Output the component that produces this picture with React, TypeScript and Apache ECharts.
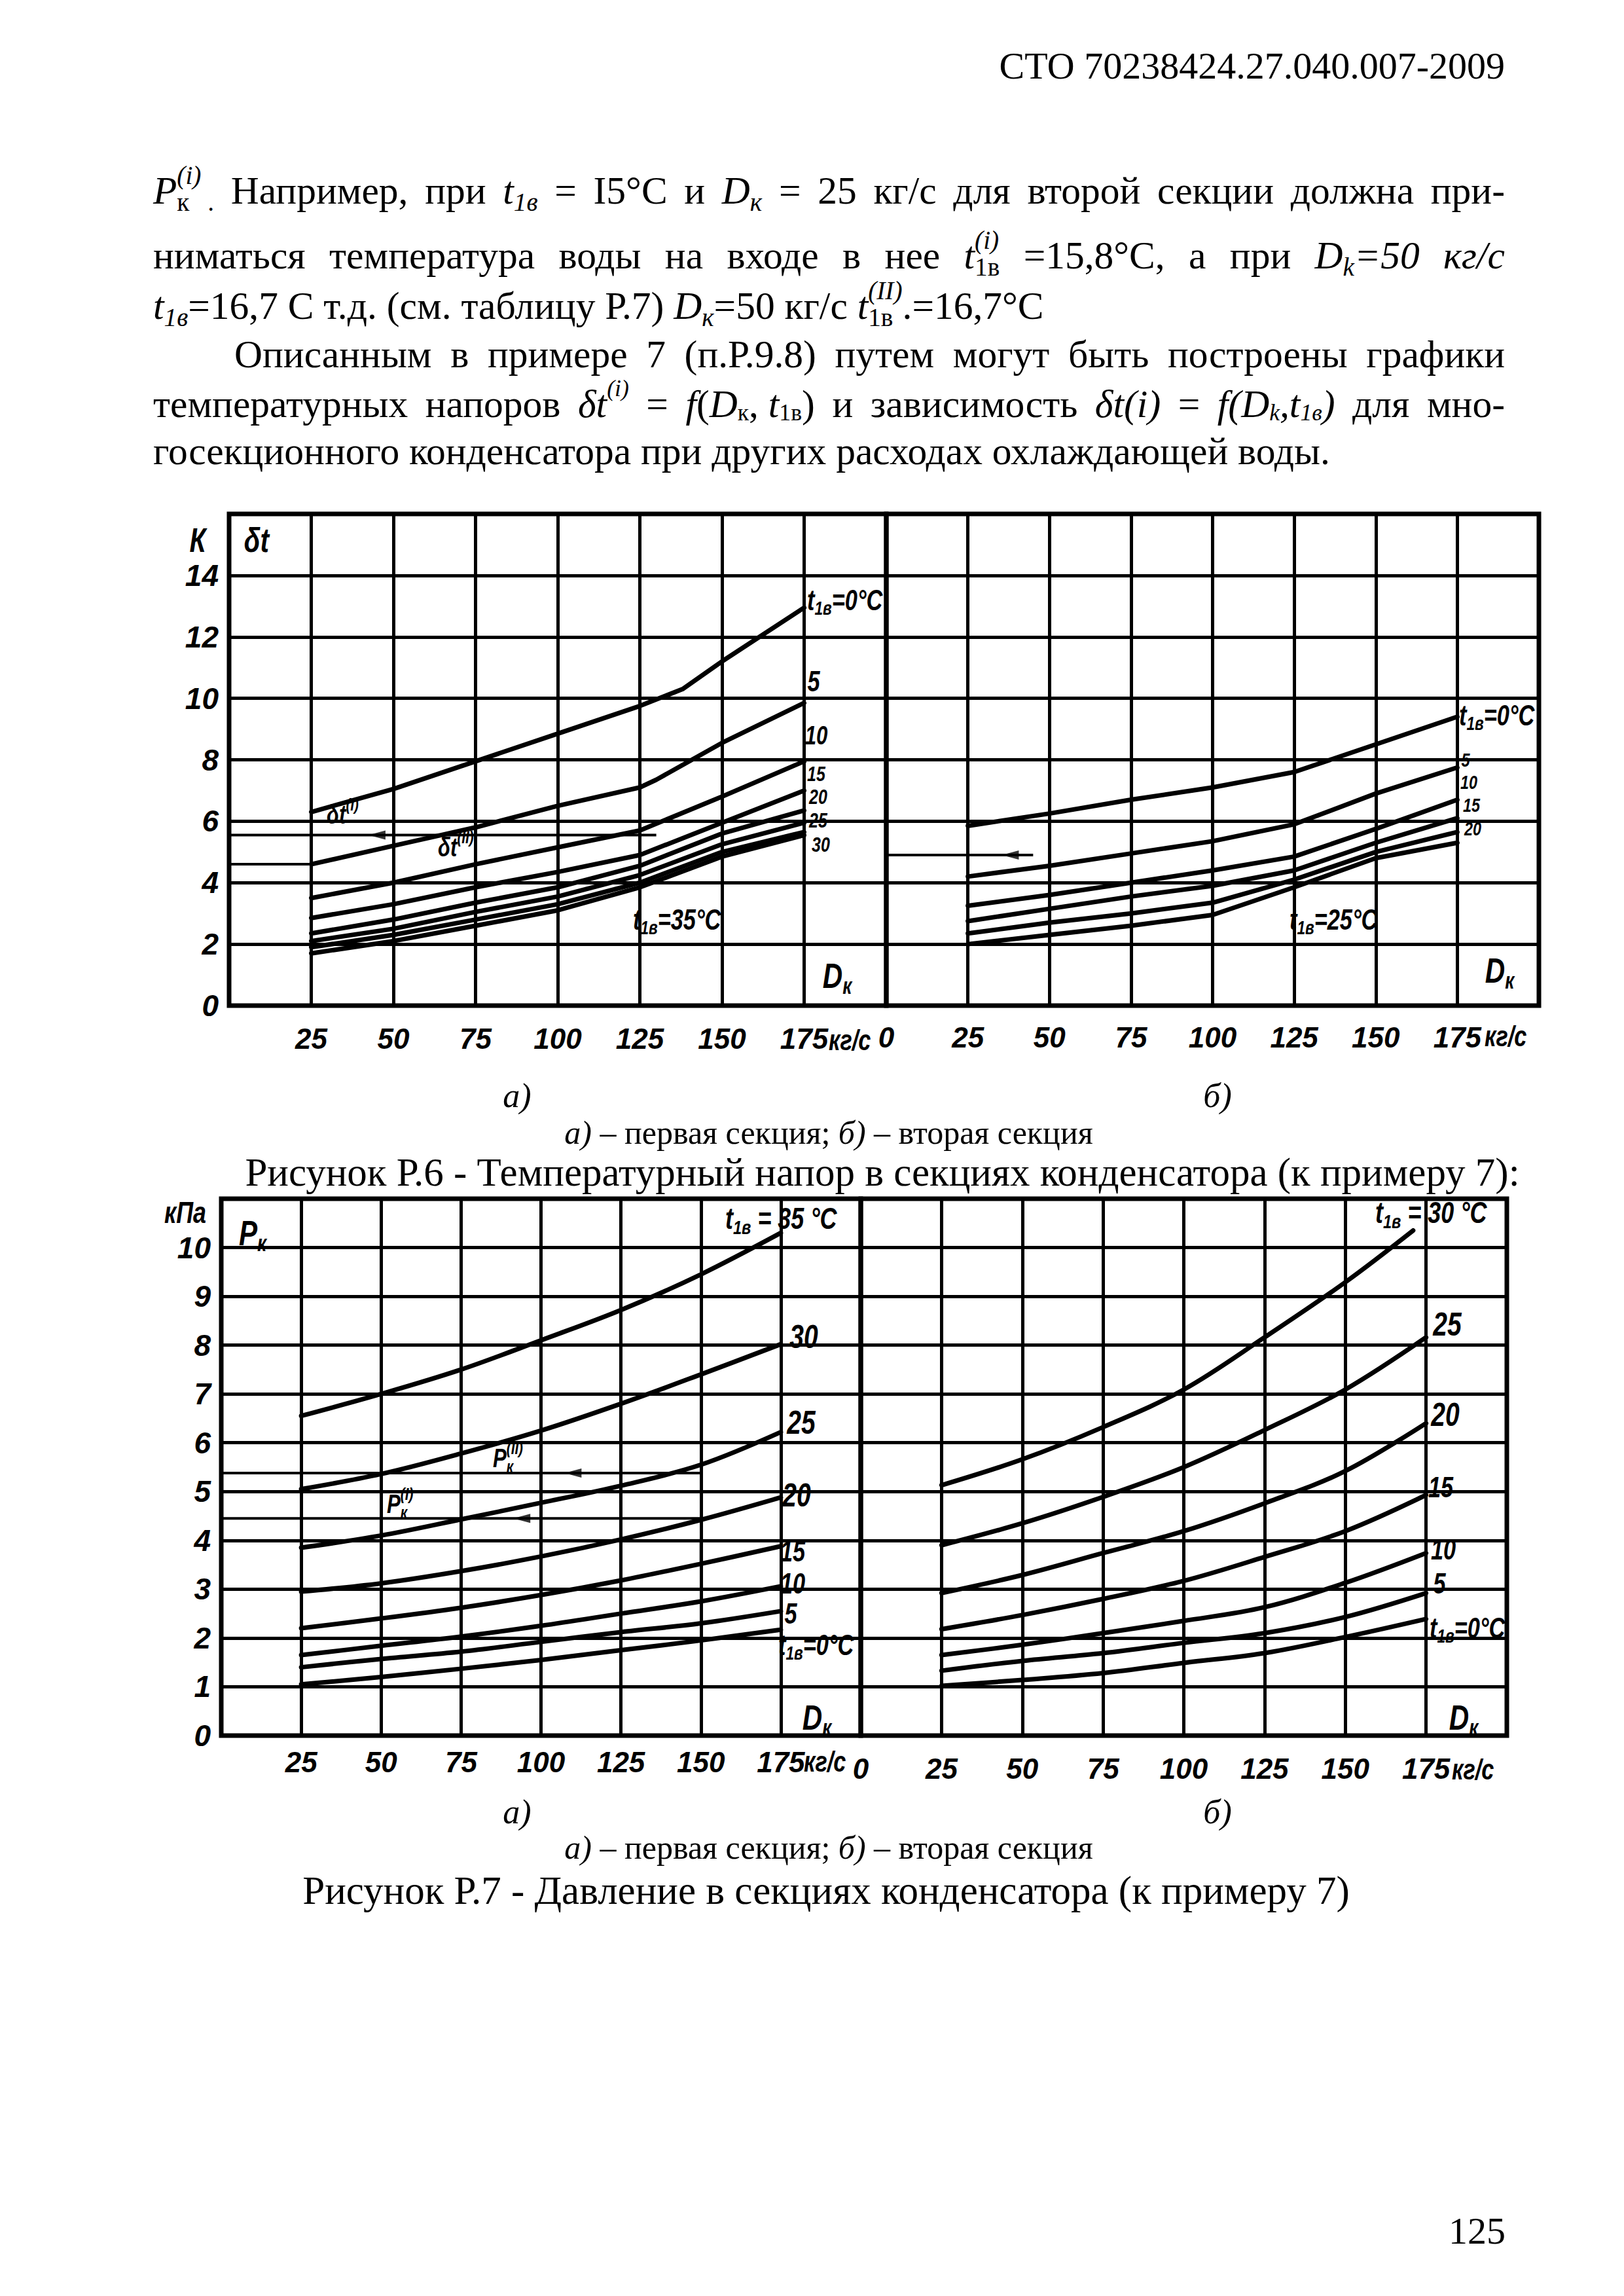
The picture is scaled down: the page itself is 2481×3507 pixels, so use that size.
import React, { useEffect, useRef } from "react";
import * as echarts from "echarts";

// ---------------- DATA ----------------
// Figure P.6 a) – first section, δt = f(Dк) for t1в = 0..35 °C
const f6aT0 = [[25, 6.3], [50, 7.05], [75, 7.95], [100, 8.85], [125, 9.75], [138, 10.3], [150, 11.2], [175, 12.95]];
const f6aT5 = [[25, 4.6], [50, 5.2], [75, 5.8], [100, 6.5], [125, 7.1], [130, 7.35], [150, 8.55], [175, 9.85]];
const f6aT10 = [[25, 3.5], [50, 4.0], [75, 4.6], [100, 5.15], [125, 5.7], [150, 6.8], [175, 7.95]];
const f6aT15 = [[25, 2.85], [50, 3.3], [75, 3.85], [100, 4.35], [125, 4.9], [150, 5.95], [175, 7.0]];
const f6aT20 = [[25, 2.35], [50, 2.8], [75, 3.35], [100, 3.85], [125, 4.55], [150, 5.6], [175, 6.35]];
const f6aT25 = [[25, 2.1], [50, 2.5], [75, 3.05], [100, 3.55], [125, 4.25], [150, 5.25], [175, 5.95]];
const f6aT30 = [[25, 1.9], [50, 2.3], [75, 2.8], [100, 3.3], [125, 4.0], [150, 5.0], [175, 5.65]];
const f6aT35 = [[25, 1.7], [50, 2.1], [75, 2.6], [100, 3.1], [125, 3.85], [150, 4.85], [175, 5.55]];
const f6aRef1 = [[0, 5.55], [130, 5.55]];
const f6aRef2 = [[0, 4.6], [25, 4.6]];
const f6aArrow = [[45, 5.55]];

// Figure P.6 b) – second section
const f6bT0 = [[25, 5.85], [50, 6.25], [75, 6.7], [100, 7.1], [125, 7.6], [150, 8.5], [175, 9.4]];
const f6bT5 = [[25, 4.2], [50, 4.55], [75, 4.95], [100, 5.35], [125, 5.9], [150, 6.9], [175, 7.75]];
const f6bT10 = [[25, 3.25], [50, 3.6], [75, 4.0], [100, 4.4], [125, 4.85], [150, 5.75], [175, 6.7]];
const f6bT15 = [[25, 2.75], [50, 3.15], [75, 3.55], [100, 3.9], [125, 4.4], [150, 5.3], [175, 6.1]];
const f6bT20 = [[25, 2.35], [50, 2.7], [75, 3.0], [100, 3.35], [125, 4.1], [150, 5.0], [175, 5.65]];
const f6bT25 = [[25, 2.0], [50, 2.3], [75, 2.6], [100, 2.95], [125, 3.85], [150, 4.8], [175, 5.3]];
const f6bRef1 = [[0, 4.9], [45, 4.9]];
const f6bArrow = [[38, 4.9]];

// Figure P.7 a) – first section, Pк = f(Dк)
const f7aT35 = [[25, 6.55], [50, 7.0], [75, 7.5], [100, 8.1], [125, 8.72], [150, 9.45], [175, 10.3]];
const f7aT30 = [[25, 5.05], [50, 5.36], [75, 5.78], [100, 6.25], [125, 6.8], [150, 7.4], [175, 8.02]];
const f7aT25 = [[25, 3.85], [50, 4.1], [75, 4.43], [100, 4.77], [125, 5.12], [150, 5.55], [175, 6.22]];
const f7aT20 = [[25, 2.95], [50, 3.12], [75, 3.37], [100, 3.67], [125, 4.02], [150, 4.42], [175, 4.88]];
const f7aT15 = [[25, 2.2], [50, 2.4], [75, 2.62], [100, 2.88], [125, 3.18], [150, 3.52], [175, 3.88]];
const f7aT10 = [[25, 1.65], [50, 1.84], [75, 2.03], [100, 2.25], [125, 2.5], [150, 2.75], [175, 3.06]];
const f7aT5 = [[25, 1.4], [50, 1.57], [75, 1.72], [100, 1.92], [125, 2.12], [150, 2.3], [175, 2.55]];
const f7aT0 = [[25, 1.05], [50, 1.2], [75, 1.37], [100, 1.55], [125, 1.75], [150, 1.95], [175, 2.17]];
const f7aRef1 = [[0, 5.38], [150, 5.38]];
const f7aRef2 = [[0, 4.45], [150, 4.45]];
const f7aArrows = [[110, 5.38], [94, 4.45]];
const f7aTick = [[150, 3.55], [150, 4.0]];

// Figure P.7 b) – second section
const f7bT30 = [[25, 5.13], [50, 5.66], [75, 6.32], [100, 7.09], [125, 8.16], [150, 9.29], [171, 10.35]];
const f7bT25 = [[25, 3.9], [50, 4.35], [75, 4.89], [100, 5.5], [125, 6.26], [150, 7.09], [175, 8.16]];
const f7bT20 = [[25, 2.92], [50, 3.29], [75, 3.74], [100, 4.19], [125, 4.76], [150, 5.42], [175, 6.4]];
const f7bT15 = [[25, 2.18], [50, 2.47], [75, 2.8], [100, 3.17], [125, 3.66], [150, 4.19], [175, 4.93]];
const f7bT10 = [[25, 1.65], [50, 1.86], [75, 2.1], [100, 2.35], [125, 2.63], [150, 3.13], [175, 3.74]];
const f7bT5 = [[25, 1.33], [50, 1.53], [75, 1.69], [100, 1.9], [125, 2.1], [150, 2.43], [175, 2.92]];
const f7bT0 = [[25, 1.02], [50, 1.14], [75, 1.28], [100, 1.49], [125, 1.69], [150, 2.02], [175, 2.39]];
const f7bTick = [[150, 3.5], [150, 3.85]];

// axis ranges
const xRange = [0, 200, 25];
const y6Range = [0, 16, 2];
const y7Range = [0, 11, 1];

// ---------------- TEXT ----------------
const FIG = "'Liberation Sans','DejaVu Sans',sans-serif";
const SERIF = "'Liberation Serif','Times New Roman',serif";

type Seg = { t?: string; i?: boolean; b?: boolean; k?: "sub" | "sup"; st?: [Seg, Seg] };
type Word = string | Seg[];
const it = (t: string): Seg => ({ t, i: true });
const n = (t: string): Seg => ({ t, i: false });
const sub = (t: string, i = false): Seg => ({ t, k: "sub", i });
const sup = (t: string, i = true): Seg => ({ t, k: "sup", i });
const stk = (a: Seg, b: Seg): Seg => ({ st: [a, b] });

const header = "СТО 70238424.27.040.007-2009";
const line1: Word[] = [[it("P"), stk(sup("(i)"), sub("к")), sub(" .")], "Например,", "при", [it("t"), sub("1в", true)], "=", "I5°C", "и", [it("D"), sub("к", true)], "=", "25", "кг/с", "для", "второй", "секции", "должна", "при-"];
const line2: Word[] = ["ниматься", "температура", "воды", "на", "входе", "в", "нее", [it("t"), stk(sup("(i)"), sub("1в"))], "=15,8°C,", "а", "при", [it("D"), sub("k", true), it("=50")], [it("кг/с")]];
const line3: Word[] = [[it("t"), sub("1в", true), n("=16,7")], "С", "т.д.", "(см.", "таблицу", "Р.7)", [it("D"), sub("к", true), n("=50")], "кг/с", [it("t"), stk(sup("(II)"), sub("1в")), n(".=16,7°С")]];
const line4: Word[] = ["Описанным", "в", "примере", "7", "(п.Р.9.8)", "путем", "могут", "быть", "построены", "графики"];
const line5: Word[] = ["температурных", "напоров", [it("δt"), sup("(i)")], "=", [it("f"), n("("), it("D"), sub("к"), n(", "), it("t"), sub("1в"), n(")")], "и", "зависимость", [it("δt(i)")], "=", [it("f(D"), sub("k", true), it(",t"), sub("1в", true), it(")")], "для", "мно-"];
const line6: Word[] = ["госекционного", "конденсатора", "при", "других", "расходах", "охлаждающей", "воды."];
const subCaption: Word[] = [[it("а)")], "–", "первая", "секция;", [it("б)")], "–", "вторая", "секция"];
const caption6 = "Рисунок Р.6 - Температурный напор в секциях конденсатора (к примеру 7):";
const caption7 = "Рисунок Р.7 - Давление в секциях конденсатора (к примеру 7)";
const pageNo = "125";
const unitLabel = "кг/с";

// ---------------- TEXT LAYOUT HELPERS ----------------
const cnv = typeof document !== "undefined" ? document.createElement("canvas") : null;
const ctx = cnv ? cnv.getContext("2d") : null;
type TO = { size: number; fam: string; i?: boolean; b?: boolean; sx?: number; ss?: number; sd?: number };
function mw(text: string, size: number, fam: string, i?: boolean, b?: boolean) {
  if (!ctx) return text.length * size * 0.5;
  ctx.font = `${i ? "italic " : ""}${b ? "bold " : ""}${size}px ${fam}`;
  return ctx.measureText(text).width;
}
function segW(s: Seg, o: TO): number {
  if (s.st) return Math.max(segW(s.st[0], o), segW(s.st[1], o));
  const sz = s.k ? o.size * (o.ss ?? 0.66) : o.size;
  return mw(s.t || "", sz, o.fam, s.i ?? o.i, s.b ?? o.b) * (o.sx ?? 1);
}
function segEls(s: Seg, x: number, yc: number, o: TO, out: any[]) {
  if (s.st) {
    segEls(s.st[0], x, yc, o, out);
    segEls(s.st[1], x, yc, o, out);
    return;
  }
  const sz = s.k ? o.size * (o.ss ?? 0.66) : o.size;
  const dy = s.k === "sub" ? o.size * (o.sd ?? 0.3) : s.k === "sup" ? -o.size * 0.4 : 0;
  const ital = s.i ?? o.i;
  const bold = s.b ?? o.b;
  out.push({
    type: "text",
    x,
    y: yc + dy,
    scaleX: o.sx ?? 1,
    silent: true,
    z: 100,
    style: {
      text: s.t,
      fill: "#000",
      fontSize: sz,
      fontFamily: o.fam,
      fontStyle: ital ? "italic" : "normal",
      fontWeight: bold ? "bold" : "normal",
      align: "left",
      verticalAlign: "middle",
    },
  });
}
const toSegs = (w: Word): Seg[] => (typeof w === "string" ? [{ t: w }] : w);
function wordsWidth(words: Word[], o: TO) {
  const ws = words.map(toSegs);
  const widths = ws.map((w) => w.reduce((a, s) => a + segW(s, o), 0));
  const space = mw(" ", o.size, o.fam, o.i, o.b) * (o.sx ?? 1);
  return { ws, widths, space, total: widths.reduce((a, b) => a + b, 0) + space * Math.max(0, ws.length - 1) };
}
function lineEls(words: Word[], x0: number, x1: number, yc: number, o: TO, justify: boolean, out: any[]) {
  const { ws, widths, space } = wordsWidth(words, o);
  const sum = widths.reduce((a, b) => a + b, 0);
  const gap = justify && ws.length > 1 ? (x1 - x0 - sum) / (ws.length - 1) : space;
  let x = x0;
  ws.forEach((w, k) => {
    let xx = x;
    w.forEach((s) => {
      segEls(s, xx, yc, o, out);
      xx += segW(s, o);
    });
    x += widths[k] + gap;
  });
}
function put(words: Word[], x: number, yc: number, o: TO, align: "left" | "center" | "right", out: any[]) {
  const { total } = wordsWidth(words, o);
  const x0 = align === "left" ? x : align === "center" ? x - total / 2 : x - total;
  lineEls(words, x0, x0 + total, yc, o, false, out);
}
const tLabel = (rest: string): Word[] => [[{ t: "t" }, { t: "1в", k: "sub" }, { t: rest }]];

// ---------------- CHART OPTION ----------------
function buildOption() {
  const g: any[] = [];
  const HO: TO = { size: 58, fam: SERIF };
  const BO: TO = { size: 59.5, fam: SERIF };
  const BO5: TO = { size: 59.5, fam: SERIF, ss: 0.6, sd: 0.22 };
  put([header], 2299, 100, HO, "right", g);
  lineEls(line1, 234, 2299, 291, BO, true, g);
  lineEls(line2, 234, 2299, 390, BO, true, g);
  lineEls(line3, 234, 2299, 467, BO, false, g);
  lineEls(line4, 358, 2299, 541, BO, true, g);
  lineEls(line5, 234, 2299, 617, BO5, true, g);
  lineEls(line6, 234, 2299, 689, BO, false, g);

  // captions
  const IT: TO = { size: 52, fam: SERIF, i: true };
  const SC: TO = { size: 50, fam: SERIF };
  const CP: TO = { size: 61, fam: SERIF };
  put([[{ t: "а)" }]], 790, 1673, IT, "center", g);
  put([[{ t: "б)" }]], 1860, 1673, IT, "center", g);
  put(subCaption, 1266, 1730, SC, "center", g);
  put([caption6], 1348, 1790, CP, "center", g);
  put([[{ t: "а)" }]], 790, 2767, IT, "center", g);
  put([[{ t: "б)" }]], 1860, 2767, IT, "center", g);
  put(subCaption, 1266, 2822, SC, "center", g);
  put([caption7], 1262, 2887, CP, "center", g);
  put([pageNo], 2300, 3407, HO, "right", g);

  // figure annotations (handwritten style: bold italic, narrowed)
  const F = (size: number, sx = 0.78): TO => ({ size, fam: FIG, i: true, b: true, sx });
  // P.6 a
  put(["К"], 302, 825, F(52), "center", g);
  put(["δt"], 392, 825, F(52), "center", g);
  put(tLabel("=0°C"), 1233, 916, F(44), "left", g);
  put(["5"], 1243, 1040, F(44), "center", g);
  put(["10"], 1247, 1124, F(40), "center", g);
  put(["15"], 1247, 1182, F(32), "center", g);
  put(["20"], 1250, 1217, F(32), "center", g);
  put(["25"], 1250, 1253, F(32), "center", g);
  put(["30"], 1254, 1290, F(32), "center", g);
  put(tLabel("=35°C"), 967, 1404, F(44), "left", g);
  put([[{ t: "D" }, { t: "к", k: "sub" }]], 1279, 1490, F(54), "center", g);
  put([[{ t: "δt" }, { t: "(I)", k: "sup" }]], 499, 1245, F(40), "left", g);
  put([[{ t: "δt" }, { t: "(II)", k: "sup" }]], 669, 1295, F(40), "left", g);
  put([unitLabel], 1266, 1588, F(44), "left", g);
  // P.6 b
  put(tLabel("=0°C"), 2229, 1092, F(44), "left", g);
  put(["5"], 2239, 1161, F(30), "center", g);
  put(["10"], 2244, 1195, F(30), "center", g);
  put(["15"], 2248, 1230, F(30), "center", g);
  put(["20"], 2250, 1266, F(30), "center", g);
  put(tLabel("=25°C"), 1970, 1404, F(44), "left", g);
  put([[{ t: "D" }, { t: "к", k: "sub" }]], 2291, 1482, F(54), "center", g);
  put([unitLabel], 2268, 1582, F(44), "left", g);
  // P.7 a
  put(["кПа"], 283, 1852, F(46), "center", g);
  put([[{ t: "P" }, { t: "к", k: "sub" }]], 386, 1883, F(54), "center", g);
  put(tLabel(" = 35 °C"), 1108, 1861, F(46), "left", g);
  put(["30"], 1228, 2042, F(50), "center", g);
  put(["25"], 1224, 2173, F(50), "center", g);
  put(["20"], 1217, 2284, F(50), "center", g);
  put(["15"], 1211, 2369, F(44), "center", g);
  put(["10"], 1211, 2418, F(44), "center", g);
  put(["5"], 1208, 2464, F(44), "center", g);
  put(tLabel("=0°C"), 1189, 2512, F(44), "left", g);
  put([[{ t: "D" }, { t: "к", k: "sub" }]], 1248, 2623, F(54), "center", g);
  put([[{ t: "P" }, { st: [{ t: "(II)", k: "sup" }, { t: "к", k: "sub" }] }]], 753, 2228, F(40), "left", g);
  put([[{ t: "P" }, { st: [{ t: "(I)", k: "sup" }, { t: "к", k: "sub" }] }]], 591, 2298, F(40), "left", g);
  put([unitLabel], 1228, 2690, F(44), "left", g);
  // P.7 b
  put(tLabel(" = 30 °C"), 2101, 1852, F(46), "left", g);
  put(["25"], 2211, 2023, F(50), "center", g);
  put(["20"], 2208, 2161, F(50), "center", g);
  put(["15"], 2201, 2271, F(44), "center", g);
  put(["10"], 2205, 2366, F(44), "center", g);
  put(["5"], 2199, 2418, F(44), "center", g);
  put(tLabel("=0°C"), 2184, 2486, F(44), "left", g);
  put([[{ t: "D" }, { t: "к", k: "sub" }]], 2236, 2623, F(54), "center", g);
  put([unitLabel], 2218, 2702, F(44), "left", g);

  const gridBase = { show: true, borderColor: "#000", borderWidth: 7, backgroundColor: "rgba(0,0,0,0)", containLabel: false };
  const grids = [
    { ...gridBase, left: 350, top: 785, width: 1004, height: 751 },
    { ...gridBase, left: 1354, top: 785, width: 997, height: 751 },
    { ...gridBase, left: 338, top: 1831, width: 977, height: 820 },
    { ...gridBase, left: 1315, top: 1831, width: 987, height: 820 },
  ];
  const tickFont = { color: "#000", fontFamily: FIG, fontStyle: "italic", fontWeight: "bold", fontSize: 44 };
  const split = { show: true, lineStyle: { color: "#000", width: 5 } };
  const mkX = (gi: number, margin: number, hide: number[]) => ({
    type: "value",
    gridIndex: gi,
    min: xRange[0],
    max: xRange[1],
    interval: xRange[2],
    axisLine: { show: false },
    axisTick: { show: false },
    splitLine: split,
    axisLabel: { ...tickFont, margin, formatter: (v: number) => (hide.includes(v) ? "" : String(v)) },
  });
  const mkY = (gi: number, r: number[], show: boolean) => ({
    type: "value",
    gridIndex: gi,
    min: r[0],
    max: r[1],
    interval: r[2],
    axisLine: { show: false },
    axisTick: { show: false },
    splitLine: split,
    axisLabel: {
      show,
      ...tickFont,
      fontSize: 46,
      margin: 16,
      padding: [18, 0, 0, 0],
      formatter: (v: number) => (v === r[1] ? "" : String(v)),
    },
  });
  const xAxis = [mkX(0, 28, [0, 200]), mkX(1, 26, [200]), mkX(2, 18, [0, 200]), mkX(3, 28, [200])];
  const yAxis = [mkY(0, y6Range, true), mkY(1, y6Range, false), mkY(2, y7Range, true), mkY(3, y7Range, false)];

  const curve = (data: number[][], gi: number, smooth: boolean | number) => ({
    type: "line",
    xAxisIndex: gi,
    yAxisIndex: gi,
    data,
    smooth,
    symbol: "none",
    showSymbol: false,
    silent: true,
    z: 4,
    lineStyle: { color: "#000", width: 7, cap: "round", join: "round" },
  });
  const ref = (data: number[][], gi: number) => ({
    type: "line",
    xAxisIndex: gi,
    yAxisIndex: gi,
    data,
    symbol: "none",
    showSymbol: false,
    silent: true,
    z: 3,
    lineStyle: { color: "#000", width: 4 },
  });
  const arrows = (data: number[][], gi: number, rot: number) => ({
    type: "scatter",
    xAxisIndex: gi,
    yAxisIndex: gi,
    data,
    symbol: "triangle",
    symbolRotate: rot,
    symbolSize: [14, 26],
    silent: true,
    z: 5,
    itemStyle: { color: "#000" },
  });

  const series: any[] = [
    ...[f6aT0, f6aT5, f6aT10, f6aT15, f6aT20, f6aT25, f6aT30, f6aT35].map((d) => curve(d, 0, false)),
    ref(f6aRef1, 0),
    ref(f6aRef2, 0),
    arrows(f6aArrow, 0, 90),
    ...[f6bT0, f6bT5, f6bT10, f6bT15, f6bT20, f6bT25].map((d) => curve(d, 1, false)),
    ref(f6bRef1, 1),
    arrows(f6bArrow, 1, 90),
    ...[f7aT35, f7aT30, f7aT25, f7aT20, f7aT15, f7aT10, f7aT5, f7aT0].map((d) => curve(d, 2, 0.35)),
    ref(f7aRef1, 2),
    ref(f7aRef2, 2),
    arrows(f7aArrows, 2, 90),
    ref(f7aTick, 2),
    ...[f7bT30, f7bT25, f7bT20, f7bT15, f7bT10, f7bT5, f7bT0].map((d) => curve(d, 3, 0.35)),
    ref(f7bTick, 3),
  ];

  return {
    animation: false,
    backgroundColor: "#fff",
    grid: grids,
    xAxis,
    yAxis,
    series,
    graphic: { elements: g },
  };
}

export default function App() {
  const ref = useRef<HTMLDivElement>(null);
  useEffect(() => {
    if (!ref.current) return;
    const chart = echarts.init(ref.current, null, { renderer: "svg", width: 2481, height: 3507 });
    chart.setOption(buildOption() as any);
    return () => chart.dispose();
  }, []);
  return (
    <div
      ref={ref}
      style={{ position: "absolute", left: 0, top: 0, width: 2481, height: 3507, background: "#fff" }}
    />
  );
}
